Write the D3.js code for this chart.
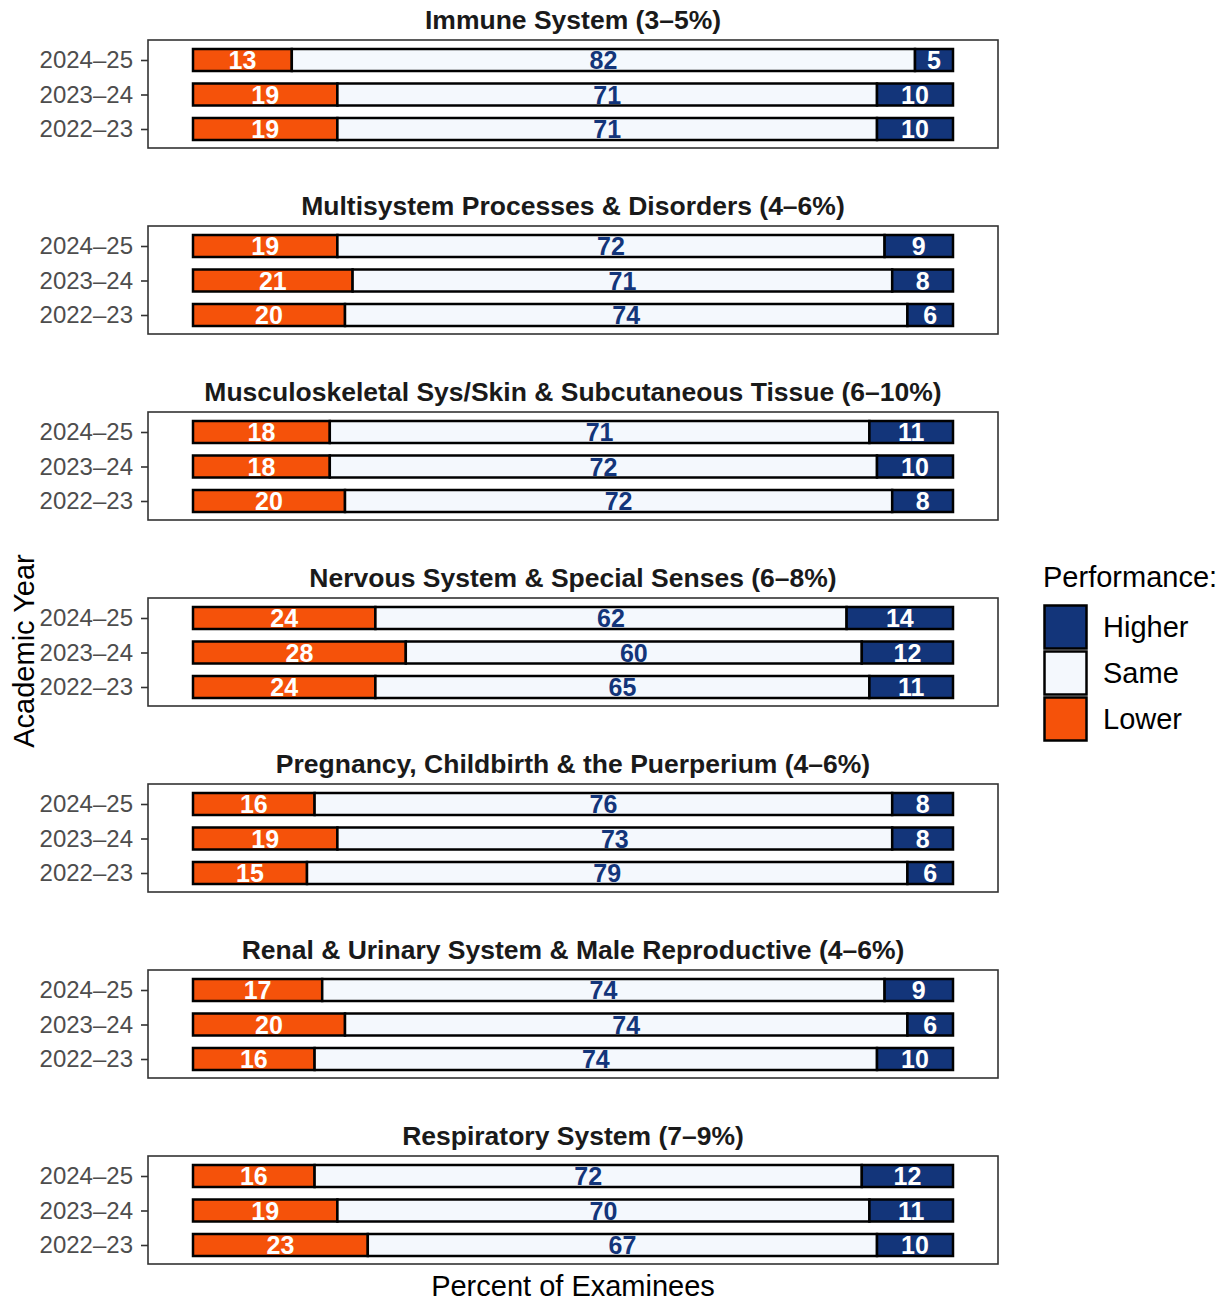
<!DOCTYPE html>
<html>
<head>
<meta charset="utf-8">
<script src="https://cdn.jsdelivr.net/npm/d3@7"></script>
<style>
  html, body { margin: 0; padding: 0; background: #fff; }
  svg { display: block; font-family: "Liberation Sans", Arial, sans-serif; }
</style>
</head>
<body>
<svg id="chart" width="1222" height="1302"></svg>
<script>
// ---- Data ----
const panels = [
  "Immune System (3\u20135%)",
  "Multisystem Processes & Disorders (4\u20136%)",
  "Musculoskeletal Sys/Skin & Subcutaneous Tissue (6\u201310%)",
  "Nervous System & Special Senses (6\u20138%)",
  "Pregnancy, Childbirth & the Puerperium (4\u20136%)",
  "Renal & Urinary System & Male Reproductive (4\u20136%)",
  "Respiratory System (7\u20139%)"
];
const years = ["2024\u201325", "2023\u201324", "2022\u201323"];
const categories = ["Lower", "Same", "Higher"];
// per panel, per year (order of `years`)
const lowerVals = [
  [13, 19, 19],
  [19, 21, 20],
  [18, 18, 20],
  [24, 28, 24],
  [16, 19, 15],
  [17, 20, 16],
  [16, 19, 23]
];
const sameVals = [
  [82, 71, 71],
  [72, 71, 74],
  [71, 72, 72],
  [62, 60, 65],
  [76, 73, 79],
  [74, 74, 74],
  [72, 70, 67]
];
const higherVals = [
  [5, 10, 10],
  [9, 8, 6],
  [11, 10, 8],
  [14, 12, 11],
  [8, 8, 6],
  [9, 6, 10],
  [12, 11, 10]
];
const legendOrder = ["Higher", "Same", "Lower"];

// ---- Styles ----
const colors = { Lower: "#F5520A", Same: "#F4F8FD", Higher: "#13357A" };
const labelColors = { Lower: "#FFFFFF", Same: "#13357A", Higher: "#FFFFFF" };

const svg = d3.select("#chart");
const panelLeft = 148, panelRight = 998;
const panelH = 108, panelStep = 186, firstTop = 40;

const x = d3.scaleLinear().domain([0, 100]).range([193, 953]);
const panelY = d3.scaleLinear().domain([0, 1]).range([firstTop, firstTop + panelStep]);
const barH = 22;

const valsFor = (p, c) => (c === "Lower" ? lowerVals : c === "Same" ? sameVals : higherVals)[p];

panels.forEach((title, p) => {
  const top = panelY(p);
  const g = svg.append("g");
  const y = d3.scalePoint().domain(years).range([top + 20, top + 89]);

  // title
  g.append("text")
    .attr("x", (panelLeft + panelRight) / 2)
    .attr("y", top - 11)
    .attr("text-anchor", "middle")
    .attr("font-size", 26.5)
    .attr("font-weight", "bold")
    .attr("fill", "#1a1a1a")
    .text(title);

  // bars
  years.forEach((yr, i) => {
    let cum = 0;
    categories.forEach(c => {
      const v = valsFor(p, c)[i];
      const x0 = x(cum), x1 = x(cum + v);
      g.append("rect")
        .attr("x", x0).attr("y", y(yr) - barH / 2)
        .attr("width", x1 - x0).attr("height", barH)
        .attr("fill", colors[c])
        .attr("stroke", "#000").attr("stroke-width", 2.5);
      cum += v;
    });
    cum = 0;
    categories.forEach(c => {
      const v = valsFor(p, c)[i];
      g.append("text")
        .attr("x", x(cum + v / 2))
        .attr("y", y(yr))
        .attr("dy", "0.36em")
        .attr("text-anchor", "middle")
        .attr("font-size", 25)
        .attr("font-weight", "bold")
        .attr("fill", labelColors[c])
        .text(v);
      cum += v;
    });
  });

  // panel border
  g.append("rect")
    .attr("x", panelLeft).attr("y", top)
    .attr("width", panelRight - panelLeft).attr("height", panelH)
    .attr("fill", "none").attr("stroke", "#333").attr("stroke-width", 1.6);

  // y axis
  const ax = g.append("g")
    .attr("transform", `translate(${panelLeft},0)`)
    .call(d3.axisLeft(y).tickSize(7).tickPadding(8));
  ax.select(".domain").remove();
  ax.selectAll(".tick line").attr("stroke", "#333").attr("stroke-width", 1.6);
  ax.selectAll(".tick text")
    .attr("font-size", 24)
    .attr("font-family", "Liberation Sans, Arial, sans-serif")
    .attr("fill", "#4d4d4d");
});

// axis titles
svg.append("text")
  .attr("x", (panelLeft + panelRight) / 2)
  .attr("y", 1296)
  .attr("text-anchor", "middle")
  .attr("font-size", 29)
  .attr("fill", "#000")
  .text("Percent of Examinees");

svg.append("text")
  .attr("transform", "translate(34,651) rotate(-90)")
  .attr("text-anchor", "middle")
  .attr("font-size", 29)
  .attr("fill", "#000")
  .text("Academic Year");

// legend
const lg = svg.append("g");
lg.append("text")
  .attr("x", 1043).attr("y", 587)
  .attr("font-size", 29)
  .attr("fill", "#000")
  .text("Performance:");
const ly = d3.scaleBand().domain(legendOrder).range([604, 742]);
legendOrder.forEach(c => {
  lg.append("rect")
    .attr("x", 1044.5).attr("y", ly(c) + 1.5)
    .attr("width", 42).attr("height", ly.bandwidth() - 3)
    .attr("fill", colors[c]).attr("stroke", "#000").attr("stroke-width", 2.5);
  lg.append("text")
    .attr("x", 1103).attr("y", ly(c) + ly.bandwidth() / 2)
    .attr("dy", "0.36em")
    .attr("font-size", 29)
    .attr("fill", "#000")
    .text(c);
});
</script>
</body>
</html>
